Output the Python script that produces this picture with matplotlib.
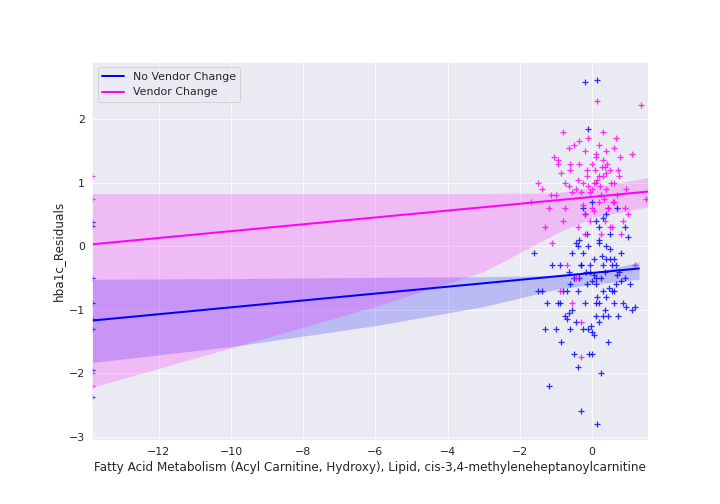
import matplotlib
matplotlib.use("Agg")
import matplotlib.pyplot as plt
import seaborn as sns

sns.set_style("darkgrid")
plt.rcParams["font.size"] = 11

# scatter data (estimated)
nv_x = [-13.85,-13.85,-13.85,-13.85,-13.85,-13.85,-13.85,-13.85,
        -1.6,-1.5,-1.3,-1.2,-1.1,-1.0,-0.95,-0.9,-0.85,-0.8,-0.75,-0.7,-0.65,-0.6,-0.55,-0.5,-0.5,-0.45,
        -0.4,-0.4,-0.35,-0.3,-0.3,-0.25,-0.2,-0.2,-0.15,-0.1,-0.1,-0.05,0.0,0.0,0.05,0.05,0.1,0.1,0.15,
        0.15,0.2,0.2,0.25,0.3,0.3,0.35,0.4,0.4,0.45,0.5,0.55,0.6,0.65,0.7,0.75,0.8,0.85,0.9,1.0,1.1,1.2,
        -0.25,0.35,0.1,-0.6,0.5,0.0,-0.2,0.3,-0.4,0.6,0.2,-0.1,0.45,-0.7,0.15,0.05,-0.3,0.7,-1.4,-0.9,0.9,
        -0.05,0.25,-0.15,0.4,0.55,-0.35,0.1,0.65,-0.55,0.2,0.0,0.3,-0.45,0.8,0.5,-0.25,0.12,0.38,-0.08,0.6,
        -1.25,-0.65,0.95,1.05,0.72,-0.18,0.28,0.48,-0.02,0.18]
nv_y = [0.38,0.32,-0.5,-0.9,-1.15,-1.3,-1.95,-2.38,
        -0.1,-0.7,-1.3,-2.2,-0.3,-1.3,-0.9,-0.3,-1.5,-0.7,-1.1,-0.7,-0.4,-1.3,-0.1,-0.5,-1.7,0.05,
        -0.7,-1.9,0.1,-0.3,-2.6,0.6,-0.9,2.58,-0.6,-1.3,0.0,-0.4,-1.7,0.7,-0.2,-1.4,-0.5,0.4,-2.8,
        2.62,-0.9,0.3,-2.0,-0.3,-1.1,-0.4,0.0,-0.8,-1.5,0.2,-0.3,-0.9,-0.6,0.6,-0.4,-0.1,-0.9,-0.5,0.15,-1.0,-0.95,
        -1.3,-1.0,-0.6,-0.6,-0.2,-1.35,0.5,-0.7,0.0,-0.7,-1.2,1.85,-1.1,-1.15,-0.8,-0.45,-0.3,-0.45,-0.7,-0.9,0.3,
        -0.3,-0.5,0.2,-0.2,-0.7,-0.5,-0.9,-0.3,-1.0,0.1,-0.55,0.45,-1.2,-0.55,-0.05,-0.1,-1.1,0.5,-1.7,-0.2,
        -0.9,-1.05,-0.95,-0.6,-1.1,-0.4,-0.15,-0.65,-1.25,0.05]
v_x = [-13.85,-13.85,-13.85,-13.85,
       -1.7,-1.5,-1.4,-1.3,-1.2,-1.1,-1.05,-1.0,-0.95,-0.9,-0.85,-0.8,-0.75,-0.7,-0.65,-0.6,-0.55,-0.5,
       -0.45,-0.4,-0.35,-0.3,-0.3,-0.25,-0.2,-0.2,-0.15,-0.1,-0.1,-0.05,0.0,0.0,0.05,0.1,0.1,0.15,0.2,
       0.2,0.25,0.3,0.3,0.35,0.4,0.4,0.45,0.5,0.55,0.6,0.65,0.7,0.75,0.8,0.9,1.0,1.1,1.2,1.5,
       -0.6,-0.3,0.0,0.3,0.5,-0.8,0.15,-0.2,0.6,0.35,-0.45,0.05,-0.35,0.25,0.45,
       -0.75,-0.55,-0.15,0.08,0.22,0.42,0.58,0.72,0.85,-0.95,-0.4,0.32,0.12,-0.25,0.52,0.95,1.35,-1.15,
       0.62,0.28,-0.05,0.18,-0.65,0.4,0.78]
v_y = [1.1,0.75,-2.0,-2.2,
       0.7,1.0,0.9,0.3,0.6,0.05,1.4,0.8,1.3,-0.7,1.15,1.8,0.6,-0.3,1.55,1.2,-0.9,1.6,
       0.9,0.3,1.3,-1.2,0.85,1.0,1.5,0.5,1.2,0.95,1.7,0.4,1.3,0.9,0.55,1.0,1.4,2.28,0.7,
       1.6,0.2,1.1,1.35,0.4,0.9,1.5,0.6,1.2,0.3,1.0,1.7,0.8,1.1,0.2,0.6,0.5,1.45,-0.3,0.75,
       1.3,-1.75,0.6,1.8,0.3,0.4,1.05,0.2,0.7,1.25,-0.5,1.0,1.65,0.8,0.6,
       1.0,0.85,1.1,1.2,0.95,1.3,0.7,1.2,0.4,1.35,1.05,0.75,1.45,0.65,1.0,0.9,2.22,0.8,
       1.55,1.25,0.85,1.1,0.95,1.15,1.4]

# fitted lines and confidence bands (estimated from reference)
nv_line_x = [-13.85, 1.3]
nv_line_y = [-1.17, -0.35]
v_line_x = [-13.85, 1.55]
v_line_y = [0.03, 0.86]
nv_band_x = [-13.85, -10, -6, -3, -1, 0, 1.3]
nv_band_lo = [-1.83, -1.58, -1.25, -0.95, -0.68, -0.6, -0.52]
nv_band_hi = [-0.52, -0.51, -0.49, -0.48, -0.46, -0.42, -0.25]
v_band_x = [-13.85, -10, -6, -3, -1, 0, 1.55]
v_band_lo = [-2.22, -1.6, -0.95, -0.4, 0.2, 0.45, 0.62]
v_band_hi = [0.83, 0.83, 0.83, 0.83, 0.84, 0.92, 1.08]

blue = "#0000ff"
mag = "#ff00ff"

fig = plt.figure(figsize=(10, 7), dpi=72)
ax = fig.add_axes([0.128, 0.127, 0.772, 0.75])

ax.fill_between(nv_band_x, nv_band_lo, nv_band_hi, color=blue, alpha=0.2, lw=0)
ax.fill_between(v_band_x, v_band_lo, v_band_hi, color=mag, alpha=0.2, lw=0)
ax.scatter(nv_x, nv_y, marker="+", color=blue, alpha=0.8, s=40, linewidths=1.3)
ax.scatter(v_x, v_y, marker="+", color=mag, alpha=0.8, s=40, linewidths=1.3)
ax.plot(nv_line_x, nv_line_y, color=blue, lw=2, label="No Vendor Change")
ax.plot(v_line_x, v_line_y, color=mag, lw=2, label="Vendor Change")

ax.set_xlim(-13.85, 1.55)
ax.set_ylim(-3.05, 2.9)
ax.set_xticks([-12, -10, -8, -6, -4, -2, 0])
ax.set_yticks([-3, -2, -1, 0, 1, 2])
ax.set_xlabel("Fatty Acid Metabolism (Acyl Carnitine, Hydroxy), Lipid, cis-3,4-methyleneheptanoylcarnitine", fontsize=12)
ax.set_ylabel("hba1c_Residuals", fontsize=12)
ax.legend(loc="upper left", fontsize=11)
fig.savefig("out.png", dpi=72)
